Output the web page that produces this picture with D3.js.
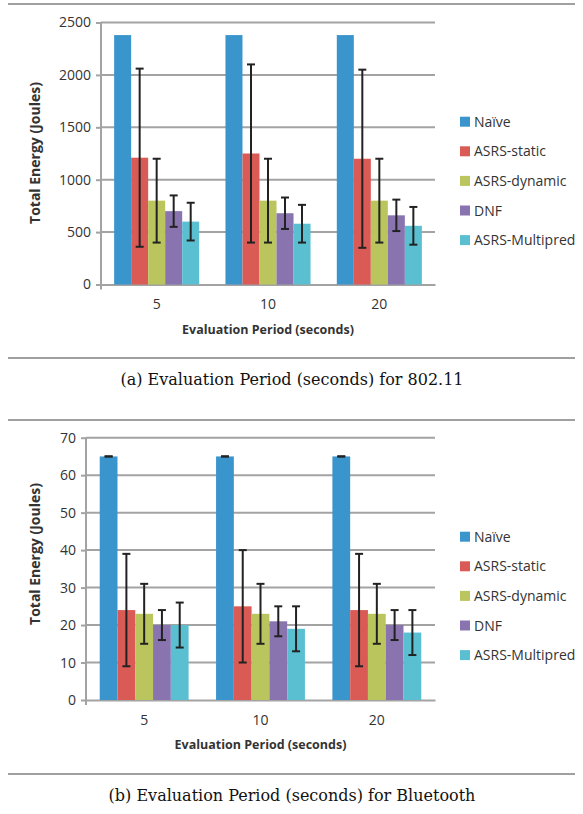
<!DOCTYPE html>
<html>
<head>
<meta charset="utf-8">
<script src="https://cdn.jsdelivr.net/npm/d3@7"></script>
<style>
  body { margin: 0; background: #fff; }
  svg { display: block; }
</style>
</head>
<body>
<svg id="chart" width="583" height="814"></svg>
<script>
'use strict';

var periods = ['5', '10', '20'];
var seriesNames = ['Naïve', 'ASRS-static', 'ASRS-dynamic', 'DNF', 'ASRS-Multipred'];
var seriesColors = ['#3a95cd', '#da5b56', '#bac65d', '#8974b0', '#5bbfd2'];

// 802.11 panel: one array per series, values for 5, 10, 20 s
var wifiNaive = [2380, 2380, 2380];
var wifiStatic = [1210, 1250, 1200];
var wifiDynamic = [800, 800, 800];
var wifiDnf = [700, 680, 660];
var wifiMulti = [600, 580, 560];
// error half-widths (null = no bar)
var wifiNaiveErr = [null, null, null];
var wifiStaticErr = [850, 850, 850];
var wifiDynamicErr = [400, 400, 400];
var wifiDnfErr = [150, 150, 150];
var wifiMultiErr = [180, 180, 180];
var wifiTicks = [0, 500, 1000, 1500, 2000, 2500];

// Bluetooth panel
var btNaive = [65, 65, 65];
var btStatic = [24, 25, 24];
var btDynamic = [23, 23, 23];
var btDnf = [20, 21, 20];
var btMulti = [20, 19, 18];
var btNaiveErr = [0, 0, 0];
var btStaticErr = [15, 15, 15];
var btDynamicErr = [8, 8, 8];
var btDnfErr = [4, 4, 4];
var btMultiErr = [6, 6, 6];
var btTicks = [0, 10, 20, 30, 40, 50, 60, 70];

var svg = d3.select('#chart');
var gridColor = '#a3a3a3';
var font = '"Open Sans", sans-serif';

function buildPanel(cfg) {
  var x0 = d3.scaleBand()
      .domain(periods)
      .range([cfg.left, cfg.right])
      .paddingInner(0.236)
      .paddingOuter(0.118);
  var x1 = d3.scaleBand()
      .domain(seriesNames)
      .range([0, x0.bandwidth()]);
  var y = d3.scaleLinear()
      .domain([0, cfg.max])
      .range([cfg.bottom, cfg.top]);

  var g = svg.append('g');

  // gridlines
  g.selectAll('.grid')
      .data(cfg.ticks.slice(1))
    .enter().append('line')
      .attr('x1', cfg.left).attr('x2', cfg.right)
      .attr('y1', function(d) { return y(d); })
      .attr('y2', function(d) { return y(d); })
      .style('stroke', gridColor)
      .style('stroke-width', 2);

  // y axis
  var yAxis = d3.axisLeft(y)
      .tickValues(cfg.ticks)
      .tickSize(5)
      .tickPadding(5)
      .tickFormat(d3.format('d'));
  var ya = g.append('g')
      .attr('transform', 'translate(' + cfg.left + ',0)')
      .call(yAxis);
  ya.select('.domain').remove();
  ya.selectAll('.tick line').style('stroke', gridColor).style('stroke-width', 2);
  ya.selectAll('.tick text')
      .style('font-family', font).style('font-size', '14px').style('fill', '#333');
  g.append('line')
      .attr('x1', cfg.left).attr('x2', cfg.left)
      .attr('y1', cfg.top).attr('y2', cfg.bottom + 5)
      .style('stroke', gridColor).style('stroke-width', 2);

  // x axis
  var xa = g.append('g')
      .attr('transform', 'translate(0,' + cfg.bottom + ')')
      .call(d3.axisBottom(x0).tickSize(0).tickPadding(15));
  xa.select('.domain').style('stroke', gridColor).style('stroke-width', 2);
  xa.selectAll('.tick text')
      .style('font-family', font).style('font-size', '14px').style('fill', '#333');

  // bars
  var groups = g.selectAll('.grp')
      .data(periods)
    .enter().append('g')
      .attr('transform', function(d) { return 'translate(' + x0(d) + ',0)'; });

  groups.selectAll('rect')
      .data(function(p, i) {
        return seriesNames.map(function(s, k) {
          return { s: s, k: k, v: cfg.values[k][i], e: cfg.errors[k][i] };
        });
      })
    .enter().append('rect')
      .attr('x', function(d) { return x1(d.s); })
      .attr('width', x1.bandwidth())
      .attr('y', function(d) { return y(d.v); })
      .attr('height', function(d) { return cfg.bottom - y(d.v); })
      .style('fill', function(d) { return seriesColors[d.k]; });

  // error bars
  var errs = groups.selectAll('.err')
      .data(function(p, i) {
        return seriesNames.map(function(s, k) {
          return { s: s, v: cfg.values[k][i], e: cfg.errors[k][i] };
        }).filter(function(d) { return d.e !== null; });
      })
    .enter().append('g')
      .attr('transform', function(d) { return 'translate(' + (x1(d.s) + x1.bandwidth() / 2) + ',0)'; })
      .style('stroke', '#222')
      .style('stroke-width', 2);
  errs.append('line')
      .attr('y1', function(d) { return y(d.v + d.e); })
      .attr('y2', function(d) { return y(d.v - d.e); });
  errs.append('line')
      .attr('x1', -4).attr('x2', 4)
      .attr('y1', function(d) { return y(d.v + d.e); })
      .attr('y2', function(d) { return y(d.v + d.e); });
  errs.append('line')
      .attr('x1', -4).attr('x2', 4)
      .attr('y1', function(d) { return y(d.v - d.e); })
      .attr('y2', function(d) { return y(d.v - d.e); });

  // axis titles
  g.append('text')
      .attr('transform', 'translate(40,' + cfg.yTitleY + ') rotate(-90)')
      .attr('text-anchor', 'middle')
      .style('font-family', font).style('font-weight', 'bold')
      .style('font-size', '14px').style('fill', '#333')
      .text('Total Energy (Joules)');
  g.append('text')
      .attr('x', (cfg.left + cfg.right) / 2)
      .attr('y', cfg.bottom + 49)
      .attr('text-anchor', 'middle')
      .style('font-family', font).style('font-weight', 'bold')
      .style('font-size', '12.5px').style('fill', '#333')
      .text('Evaluation Period (seconds)');

  // legend
  var leg = g.selectAll('.leg')
      .data(seriesNames)
    .enter().append('g')
      .attr('transform', function(d, i) { return 'translate(460,' + (cfg.legendY + i * 29.6) + ')'; });
  leg.append('rect')
      .attr('x', 0).attr('y', -5).attr('width', 10).attr('height', 10)
      .style('fill', function(d, i) { return seriesColors[i]; });
  leg.append('text')
      .attr('x', 14).attr('y', 5)
      .style('font-family', font).style('font-size', '14px').style('fill', '#333')
      .text(function(d) { return d; });

  // panel rules + caption
  [cfg.ruleTop, cfg.ruleBottom].forEach(function(ry) {
    svg.append('line')
        .attr('x1', 8).attr('x2', 575)
        .attr('y1', ry).attr('y2', ry)
        .style('stroke', '#a0a0a0').style('stroke-width', 2);
  });
  svg.append('text')
      .attr('x', 292).attr('y', cfg.ruleBottom + 27)
      .attr('text-anchor', 'middle')
      .style('font-family', '"DejaVu Serif", serif')
      .style('font-size', '16px').style('fill', '#111')
      .text(cfg.caption);
}

buildPanel({
  left: 101, right: 435, top: 22.5, bottom: 284.5, max: 2500,
  ticks: wifiTicks,
  values: [wifiNaive, wifiStatic, wifiDynamic, wifiDnf, wifiMulti],
  errors: [wifiNaiveErr, wifiStaticErr, wifiDynamicErr, wifiDnfErr, wifiMultiErr],
  yTitleY: 153, legendY: 121.7,
  ruleTop: 4, ruleBottom: 358,
  caption: '(a) Evaluation Period (seconds) for 802.11'
});

buildPanel({
  left: 86, right: 435, top: 437.7, bottom: 700, max: 70,
  ticks: btTicks,
  values: [btNaive, btStatic, btDynamic, btDnf, btMulti],
  errors: [btNaiveErr, btStaticErr, btDynamicErr, btDnfErr, btMultiErr],
  yTitleY: 554, legendY: 536.7,
  ruleTop: 420, ruleBottom: 774,
  caption: '(b) Evaluation Period (seconds) for Bluetooth'
});
</script>
</body>
</html>
